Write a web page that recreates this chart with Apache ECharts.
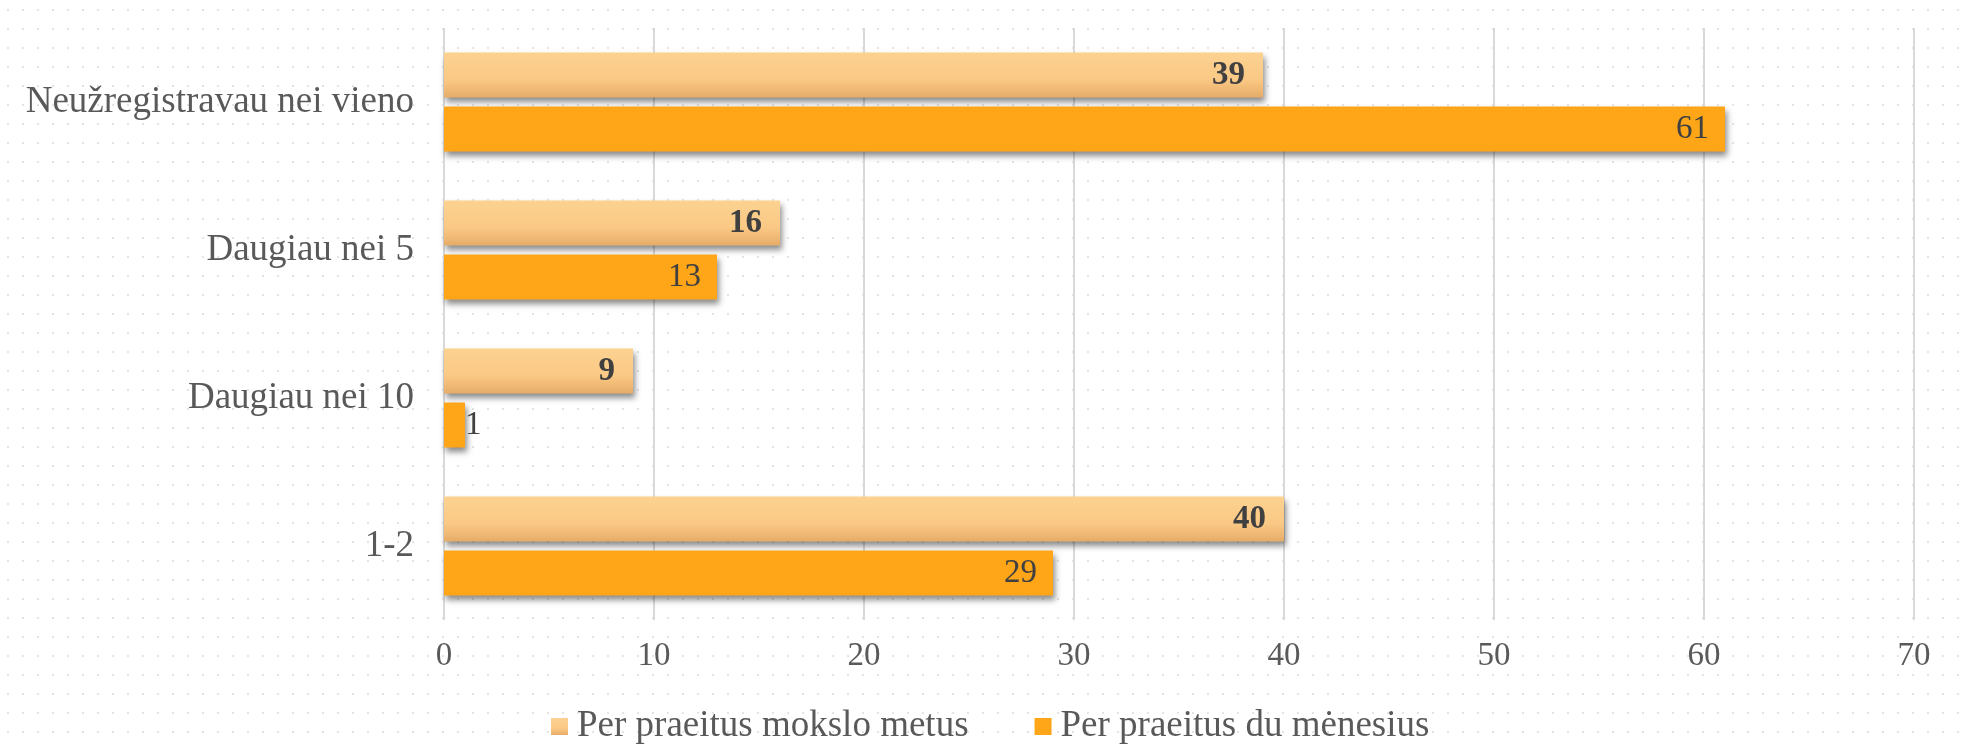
<!DOCTYPE html>
<html>
<head>
<meta charset="utf-8">
<script src="https://cdn.jsdelivr.net/npm/echarts@6/dist/echarts.min.js"></script>
<style>
  html, body { margin: 0; padding: 0; background: #fff; }
  #chart { width: 1963px; height: 746px; }
</style>
</head>
<body>
<div id="chart"></div>
<script>
// duomenys
var categories = ['1-2', 'Daugiau nei 10', 'Daugiau nei 5', 'Neužregistravau nei vieno'];
var seriesNames = ['Per praeitus mokslo metus', 'Per praeitus du mėnesius'];
var schoolYear = [40, 9, 16, 39];
var twoMonths = [29, 1, 13, 61];
var xTicks = { min: 0, max: 70, interval: 10 };

// taškuotas fonas
var dots = document.createElement('canvas');
dots.width = 15; dots.height = 19;
var dctx = dots.getContext('2d');
dctx.fillStyle = '#ffffff';
dctx.fillRect(0, 0, 15, 19);
dctx.fillStyle = '#e4e4e4';
dctx.fillRect(7, 9, 2, 2);

var chart = echarts.init(document.getElementById('chart'));

var serif = 'Liberation Serif';
var shadow = {
    shadowColor: 'rgba(0,0,0,0.45)',
    shadowBlur: 6,
    shadowOffsetX: 2,
    shadowOffsetY: 4
};

var lightColor = new echarts.graphic.LinearGradient(0, 0, 0, 1, [
    { offset: 0, color: '#fcd291' },
    { offset: 0.6, color: '#fbc985' },
    { offset: 1, color: '#e6ac68' }
]);

var option = {
    backgroundColor: { image: dots, repeat: 'repeat' },
    animation: false,
    legend: {
        data: seriesNames,
        top: 708,
        left: 551,
        padding: 0,
        itemWidth: 17,
        itemHeight: 17,
        itemGap: 66,
        icon: 'rect',
        textStyle: { fontFamily: serif, fontSize: 37, color: '#595959', padding: [0, 0, 0, 4] }
    },
    grid: { left: 444, right: 49, top: 28, bottom: 126, containLabel: false },
    xAxis: {
        type: 'value',
        min: xTicks.min,
        max: xTicks.max,
        interval: xTicks.interval,
        axisLine: { show: false },
        axisTick: { show: false },
        axisLabel: { fontFamily: serif, fontSize: 33, color: '#595959', margin: 20 },
        splitLine: { lineStyle: { color: '#d9d9d9', width: 2 } }
    },
    yAxis: {
        type: 'category',
        data: categories,
        axisLine: { show: false },
        axisTick: { show: false },
        axisLabel: { fontFamily: serif, fontSize: 37, color: '#595959', margin: 30 }
    },
    series: [
        {
            name: seriesNames[0],
            type: 'bar',
            barWidth: 45,
            barGap: '20%',
            itemStyle: Object.assign({ color: lightColor }, shadow),
            label: {
                show: true,
                position: 'insideRight',
                distance: 18,
                fontFamily: serif,
                fontSize: 33,
                fontWeight: 'bold',
                color: '#404040'
            },
            data: schoolYear
        },
        {
            name: seriesNames[1],
            type: 'bar',
            barWidth: 45,
            barGap: '20%',
            itemStyle: Object.assign({ color: '#fea518' }, shadow),
            label: {
                show: true,
                position: 'insideRight',
                distance: 16,
                fontFamily: serif,
                fontSize: 33,
                color: '#404040'
            },
            data: twoMonths.map(function (v) {
                if (v < 3) {
                    return { value: v, label: { position: 'right', distance: 0 } };
                }
                return v;
            })
        }
    ]
};
chart.setOption(option);
</script>
</body>
</html>
